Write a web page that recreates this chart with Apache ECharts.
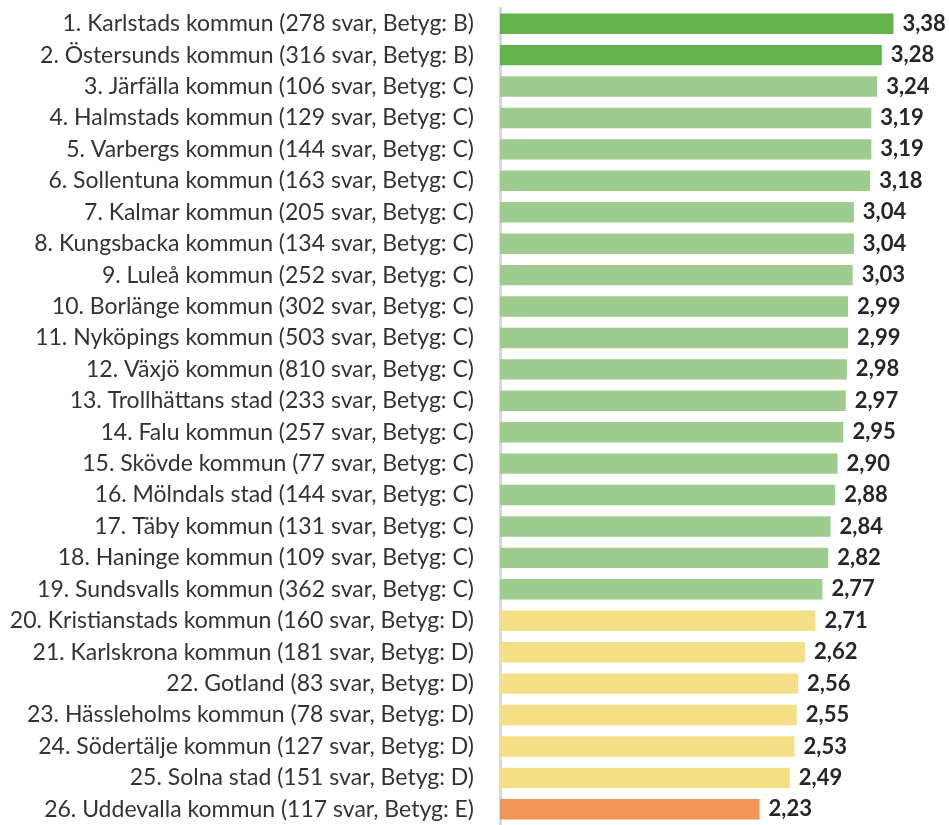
<!DOCTYPE html>
<html>
<head>
<meta charset="utf-8">
<script src="https://cdn.jsdelivr.net/npm/echarts@6/dist/echarts.min.js"></script>
<style>
  html, body { margin: 0; padding: 0; background: #fff; }
  #chart { width: 949px; height: 825px; }
</style>
</head>
<body>
<div id="chart"></div>
<script>
// kommuner, antal svar, betyg och medelvärde
var kommuner = ['Karlstads kommun', 'Östersunds kommun', 'Järfälla kommun', 'Halmstads kommun',
  'Varbergs kommun', 'Sollentuna kommun', 'Kalmar kommun', 'Kungsbacka kommun', 'Luleå kommun',
  'Borlänge kommun', 'Nyköpings kommun', 'Växjö kommun', 'Trollhättans stad', 'Falu kommun',
  'Skövde kommun', 'Mölndals stad', 'Täby kommun', 'Haninge kommun', 'Sundsvalls kommun',
  'Kristianstads kommun', 'Karlskrona kommun', 'Gotland', 'Hässleholms kommun',
  'Södertälje kommun', 'Solna stad', 'Uddevalla kommun'];
var svar = [278, 316, 106, 129, 144, 163, 205, 134, 252, 302, 503, 810, 233, 257, 77, 144, 131,
  109, 362, 160, 181, 83, 78, 127, 151, 117];
var betyg = ['B', 'B', 'C', 'C', 'C', 'C', 'C', 'C', 'C', 'C', 'C', 'C', 'C', 'C', 'C', 'C', 'C',
  'C', 'C', 'D', 'D', 'D', 'D', 'D', 'D', 'E'];
var varden = [3.38, 3.28, 3.24, 3.19, 3.19, 3.18, 3.04, 3.04, 3.03, 2.99, 2.99, 2.98, 2.97, 2.95,
  2.90, 2.88, 2.84, 2.82, 2.77, 2.71, 2.62, 2.56, 2.55, 2.53, 2.49, 2.23];

var betygFarg = { B: '#62b34a', C: '#9ecc8f', D: '#f4df86', E: '#f09659' };

var etiketter = kommuner.map(function (k, i) {
  return (i + 1) + '. ' + k + ' (' + svar[i] + ' svar, Betyg: ' + betyg[i] + ')';
});
var data = varden.map(function (v, i) {
  return { value: v, itemStyle: { color: betygFarg[betyg[i]] } };
});

var myChart = echarts.init(document.getElementById('chart'));
var option = {
  animation: false,
  grid: {
    left: 500,
    right: 41.6,
    top: 8,
    bottom: -4
  },
  xAxis: {
    type: 'value',
    min: 0,
    max: 3.5,
    show: false
  },
  yAxis: {
    type: 'category',
    inverse: true,
    data: etiketter,
    offset: 2,
    axisLine: {
      show: true,
      lineStyle: { color: '#d9d9d9', width: 3 }
    },
    axisTick: { show: false },
    axisLabel: {
      margin: 24,
      color: '#333333',
      fontFamily: 'Lato',
      fontSize: 23
    }
  },
  series: [
    {
      type: 'bar',
      data: data,
      barWidth: '65%',
      label: {
        show: true,
        position: 'right',
        distance: 9,
        color: '#262626',
        fontFamily: 'Lato',
        fontWeight: 'bold',
        fontSize: 22,
        formatter: function (p) {
          return p.value.toFixed(2).replace('.', ',');
        }
      }
    }
  ]
};
myChart.setOption(option);
</script>
</body>
</html>
